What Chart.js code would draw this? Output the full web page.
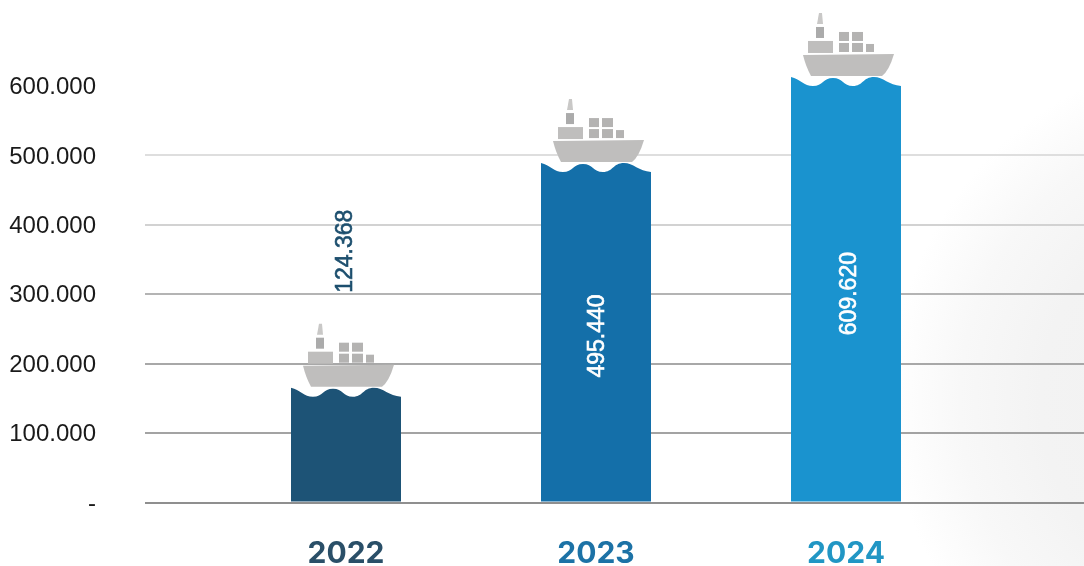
<!doctype html>
<html>

<head>
  <title>Ship volumes</title>
  <script src="https://cdn.jsdelivr.net/npm/chart.js@4"></script>
  <style>
    html, body {
      margin: 0;
      padding: 0;
      background: #fff;
    }
    .chart {
      position: relative;
      width: 1084px;
      height: 566px;
      overflow: hidden;
      background:
        radial-gradient(circle at 1240px 400px, #f0f0f0 0, #f3f3f3 200px, #f8f8f8 280px, #fcfcfc 320px, rgba(255,255,255,0) 350px);
    }
    canvas {
      filter: blur(0.5px);
    }
  </style>
</head>

<body>
  <div class="chart">
    <canvas id="myChart" width="1084" height="566"></canvas>
  </div>

  <script>
    var years = [2022, 2023, 2024];
    // bar heights as drawn in the picture (the 2022 bar is taller than its printed value)
    var barHeights = [165500, 489000, 613000];
    var valueLabels = ['124.368', '495.440', '609.620'];
    var labelLevels = [362000, 240000, 301000];
    var yTickValues = [0, 100000, 200000, 300000, 400000, 500000, 600000];
    var yTickLabels = ['-', '100.000', '200.000', '300.000', '400.000', '500.000', '600.000'];

    var barColors = ['#1d5376', '#146fa9', '#1a93cf'];
    var yearColors = ['#2a4f68', '#1c72a6', '#2196c4'];
    var labelColors = ['#1d4f6e', '#ffffff', '#ffffff'];
    var gridColors = ['#8f8f8f', '#a3a3a3', '#a8a8a8', '#b4b4b4', '#d2d2d2', '#dedede', 'rgba(0,0,0,0)'];

    function wavePath(ctx, bar, bottom) {
      var l = bar.x - bar.width / 2;
      var r = bar.x + bar.width / 2;
      var t = bar.y;
      var amp = 9;
      ctx.moveTo(l, t);
      ctx.bezierCurveTo(l + 9, t + 2, l + 13, t + amp, l + 22, t + amp);
      ctx.bezierCurveTo(l + 32, t + amp, l + 32, t + 1, l + 42, t + 1);
      ctx.bezierCurveTo(l + 52, t + 1, l + 52, t + amp, l + 62, t + amp);
      ctx.bezierCurveTo(l + 72, t + amp, l + 72, t, l + 83, t);
      ctx.bezierCurveTo(l + 92, t, l + 98, t + 8, r, t + 9);
      ctx.lineTo(r, bottom);
      ctx.lineTo(l, bottom);
      ctx.closePath();
    }

    function drawShip(ctx, cx, t) {
      ctx.fillStyle = '#bfbebd';
      // hull
      ctx.beginPath();
      ctx.moveTo(cx - 43, t - 22);
      ctx.lineTo(cx + 48, t - 23);
      ctx.quadraticCurveTo(cx + 43, t - 6, cx + 36, t - 1);
      ctx.lineTo(cx - 35, t - 1);
      ctx.quadraticCurveTo(cx - 40, t - 10, cx - 43, t - 22);
      ctx.fill();
      // bridge, funnel and mast
      ctx.fillRect(cx - 38, t - 36, 25, 12);
      ctx.fillStyle = '#ababab';
      ctx.fillRect(cx - 30, t - 50, 8, 11);
      ctx.fillStyle = '#c9c8c7';
      ctx.beginPath();
      ctx.moveTo(cx - 27, t - 64);
      ctx.lineTo(cx - 24, t - 64);
      ctx.lineTo(cx - 23, t - 53);
      ctx.lineTo(cx - 29, t - 53);
      ctx.fill();
      // containers
      ctx.fillStyle = '#b4b3b2';
      ctx.fillRect(cx - 7, t - 45, 10, 9);
      ctx.fillRect(cx + 6, t - 45, 11, 9);
      ctx.fillRect(cx - 7, t - 34, 10, 9);
      ctx.fillRect(cx + 6, t - 34, 11, 9);
      ctx.fillRect(cx + 20, t - 33, 8, 8);
    }

    var shipPlugin = {
      id: 'shipBars',
      beforeDatasetsDraw: function(chart) {
        var ctx = chart.ctx;
        var bars = chart.getDatasetMeta(0).data;
        ctx.save();
        ctx.beginPath();
        bars.forEach(function(bar) {
          wavePath(ctx, bar, bar.base);
        });
        ctx.clip();
      },
      afterDatasetsDraw: function(chart) {
        var ctx = chart.ctx;
        var bars = chart.getDatasetMeta(0).data;
        var y = chart.scales.y;
        ctx.restore();
        bars.forEach(function(bar, i) {
          drawShip(ctx, bar.x, bar.y);
          ctx.save();
          ctx.translate(bar.x + [0, 2, 4][i], y.getPixelForValue(labelLevels[i]));
          ctx.rotate(-Math.PI / 2);
          ctx.fillStyle = labelColors[i];
          ctx.strokeStyle = labelColors[i];
          ctx.lineWidth = 0.6;
          ctx.font = '23px "Liberation Sans"';
          ctx.textAlign = 'center';
          ctx.textBaseline = 'middle';
          ctx.fillText(valueLabels[i], 0, 0);
          ctx.strokeText(valueLabels[i], 0, 0);
          ctx.restore();
        });
      }
    };

    var config = {
      type: 'bar',
      data: {
        datasets: [{
          data: years.map(function(year, i) {
            return {x: year, y: barHeights[i]};
          }),
          backgroundColor: barColors,
          barThickness: 110,
          borderWidth: 0,
          clip: false
        }]
      },
      plugins: [shipPlugin],
      options: {
        responsive: false,
        animation: false,
        layout: {
          padding: {top: 86, bottom: 0, left: 0, right: 0}
        },
        scales: {
          x: {
            type: 'linear',
            offset: false,
            min: 2021.196,
            max: 2024.952,
            afterBuildTicks: function(scale) {
              scale.ticks = years.map(function(year) {
                return {value: year};
              });
            },
            afterFit: function(scale) {
              scale.height = 63;
            },
            grid: {display: false},
            border: {display: false},
            ticks: {
              autoSkip: false,
              maxRotation: 0,
              padding: 25,
              font: {family: 'Inter', size: 30, weight: '700'},
              color: function(c) {
                return yearColors[c.index];
              },
              callback: function(value) {
                return String(value);
              }
            }
          },
          y: {
            min: 0,
            max: 600000,
            afterBuildTicks: function(scale) {
              scale.ticks = yTickValues.map(function(v) {
                return {value: v};
              });
            },
            afterFit: function(scale) {
              scale.width = 145;
            },
            border: {display: false},
            grid: {
              lineWidth: 2,
              drawTicks: false,
              color: function(c) {
                return gridColors[c.index];
              }
            },
            ticks: {
              padding: 49,
              labelOffset: 1.5,
              color: '#1a1a1a',
              font: {family: 'Liberation Sans', size: 24},
              callback: function(value, index) {
                return yTickLabels[index];
              }
            }
          }
        },
        plugins: {
          legend: {display: false},
          title: {display: false},
          tooltip: {enabled: false}
        }
      }
    };

    window.onload = function() {
      var ctx = document.getElementById('myChart').getContext('2d');
      window.myChart = new Chart(ctx, config);
    };
  </script>
</body>

</html>
